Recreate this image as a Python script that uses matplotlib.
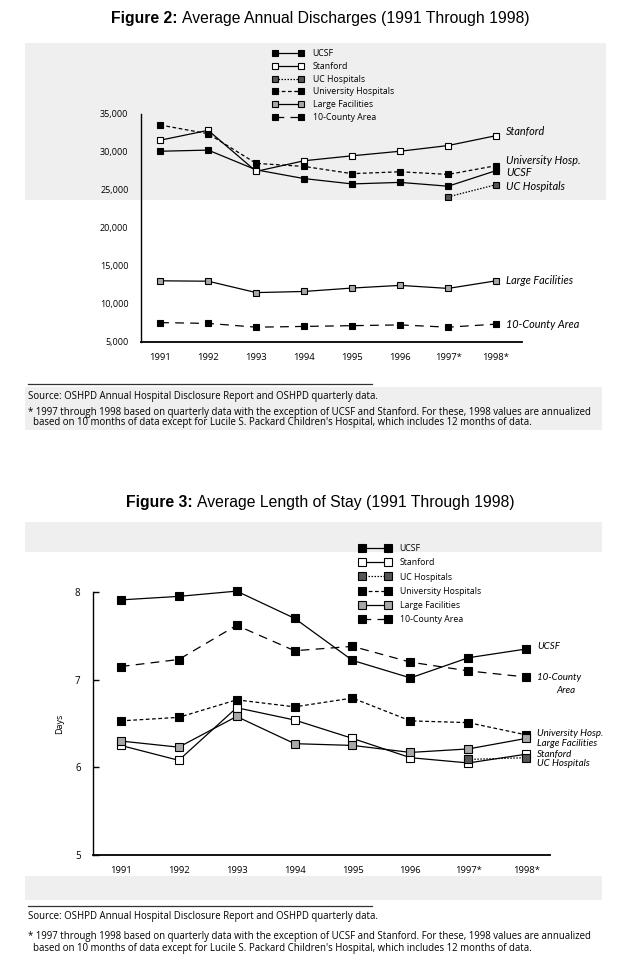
import numpy as np
import matplotlib
matplotlib.use("Agg")
import matplotlib.pyplot as plt
from matplotlib.lines import Line2D
from matplotlib.patches import Rectangle

years = [1991, 1992, 1993, 1994, 1995, 1996, 1997, 1998]
year_labels = ["1991", "1992", "1993", "1994", "1995", "1996", "1997*", "1998*"]
nan = np.nan

# Figure 2: average annual discharges
dis_ucsf = [30100, 30250, 27650, 26500, 25800, 26000, 25500, 27550]
dis_stanford = [31550, 32850, 27450, 28850, 29500, 30100, 30850, 32150]
dis_uc = [nan, nan, nan, nan, nan, nan, 24100, 25700]
dis_univ = [33550, 32400, 28500, 28100, 27150, 27400, 27050, 28200]
dis_large = [13050, 13000, 11500, 11650, 12100, 12450, 12050, 13050]
dis_county = [7550, 7450, 6950, 7050, 7150, 7250, 6950, 7350]
dis_ticks = [5000, 10000, 15000, 20000, 25000, 30000, 35000]

# Figure 3: average length of stay (days)
los_ucsf = [7.91, 7.95, 8.01, 7.70, 7.22, 7.02, 7.25, 7.35]
los_stanford = [6.25, 6.08, 6.68, 6.54, 6.33, 6.11, 6.05, 6.15]
los_uc = [nan, nan, nan, nan, nan, nan, 6.09, 6.11]
los_univ = [6.53, 6.57, 6.77, 6.69, 6.79, 6.53, 6.51, 6.37]
los_large = [6.30, 6.23, 6.58, 6.27, 6.25, 6.17, 6.21, 6.33]
los_county = [7.15, 7.23, 7.62, 7.33, 7.38, 7.20, 7.10, 7.03]
los_ticks = [5, 6, 7, 8]

names = ["UCSF", "Stanford", "UC Hospitals", "University Hospitals",
         "Large Facilities", "10-County Area"]
styles = {
    "UCSF": dict(color="black", ls="-", mfc="black"),
    "Stanford": dict(color="black", ls="-", mfc="white"),
    "UC Hospitals": dict(color="black", ls=(0, (1.2, 1.2)), mfc="#555555"),
    "University Hospitals": dict(color="black", ls=(0, (3, 2)), mfc="black"),
    "Large Facilities": dict(color="black", ls="-", mfc="#a8a8a8"),
    "10-County Area": dict(color="black", ls=(0, (7, 5)), mfc="black"),
}

tick_font = "Open Sans"
hand_font = dict(family="Lato", style="italic")

fig = plt.figure(figsize=(6.38, 9.68), dpi=100)
W, H = 638.0, 968.0


def fx(x):
    return x / W


def fy(y):
    return 1 - y / H


# scanned page shading
for (x0, y0, x1, y1) in [(25, 43, 606, 200), (25, 387, 602, 430),
                         (25, 522, 602, 552), (25, 876, 602, 900)]:
    fig.add_artist(Rectangle((fx(x0), fy(y1)), fx(x1 - x0), (y1 - y0) / H,
                             transform=fig.transFigure, color="#efefef",
                             zorder=-10, lw=0))

renderer = fig.canvas.get_renderer()


def title(y, num, rest):
    t1 = fig.text(0, fy(y), f"Figure {num}: ", ha="left", va="center",
                  fontsize=11.3, fontweight="bold", family="Liberation Sans")
    t2 = fig.text(0, fy(y), rest, ha="left", va="center",
                  fontsize=11.3, family="Liberation Sans")
    w1 = t1.get_window_extent(renderer).width
    w2 = t2.get_window_extent(renderer).width
    x0 = 320 - (w1 + w2) / 2
    t1.set_x(fx(x0))
    t2.set_x(fx(x0 + w1))


title(18, 2, "Average Annual Discharges (1991 Through 1998)")
title(503, 3, "Average Length of Stay (1991 Through 1998)")


def draw(ax, series, ms):
    handles = []
    for name, vals in zip(names, series):
        s = styles[name]
        h, = ax.plot(years, vals, color=s["color"], ls=s["ls"], lw=0.9,
                     marker="s", ms=ms, mfc=s["mfc"], mec="black", mew=0.8,
                     label=name, clip_on=False)
        handles.append(h)
    return handles


def style_axes(ax):
    for side in ["top", "right"]:
        ax.spines[side].set_visible(False)
    ax.spines["left"].set_linewidth(1.0)
    ax.spines["bottom"].set_linewidth(1.3)
    ax.set_facecolor("none")
    ax.set_xticks(years)
    ax.set_xticklabels(year_labels, family=tick_font, fontsize=6.8)
    ax.tick_params(axis="x", length=0, pad=8)


# ---- Figure 2
ax2 = fig.add_axes([fx(141), fy(342), fx(522 - 141), (342 - 114) / H])
h2 = draw(ax2, [dis_ucsf, dis_stanford, dis_uc, dis_univ, dis_large, dis_county], 5)
style_axes(ax2)
ax2.set_xlim(1990.6, 1998.54)
ax2.set_ylim(5000, 35000)
ax2.set_yticks(dis_ticks)
ax2.set_yticklabels([f"{v:,}" for v in dis_ticks], family=tick_font, fontsize=6.5)
ax2.tick_params(axis="y", length=0, pad=9)
ax2.set_yticks([35000], minor=True)
ax2.tick_params(axis="y", which="minor", direction="in", length=5, width=1)
ax2.legend(handles=h2, loc="upper left", bbox_to_anchor=(fx(268), fy(45)),
           bbox_transform=fig.transFigure, frameon=False, numpoints=2,
           handlelength=3.6, handletextpad=1.0, labelspacing=0.42,
           borderpad=0, prop=dict(family=tick_font, size=6.3))

lab2 = [("Stanford", dis_stanford[-1], 3), ("University Hosp.", dis_univ[-1], 4),
        ("UCSF", dis_ucsf[-1], -1), ("UC Hospitals", dis_uc[-1], -1),
        ("Large Facilities", dis_large[-1], 0), ("10-County Area", dis_county[-1], 0)]
for txt, v, dy in lab2:
    ax2.annotate(txt, (years[-1], v), xytext=(7, dy), textcoords="offset points",
                 va="center", ha="left", annotation_clip=False, fontsize=7.8,
                 **hand_font)

# ---- Figure 3
ax3 = fig.add_axes([fx(93), fy(855), fx(550 - 93), (855 - 592) / H])
h3 = draw(ax3, [los_ucsf, los_stanford, los_uc, los_univ, los_large, los_county], 5.5)
style_axes(ax3)
ax3.set_xlim(1990.52, 1998.41)
ax3.set_ylim(5, 8)
ax3.set_yticks(los_ticks)
ax3.set_yticklabels([str(v) for v in los_ticks], family=tick_font, fontsize=7)
ax3.tick_params(axis="y", direction="in", length=4, width=1, pad=9)
ax3.set_ylabel("Days", family=tick_font, fontsize=6.5, labelpad=8)
ax3.legend(handles=h3, loc="upper left", bbox_to_anchor=(fx(355), fy(540)),
           bbox_transform=fig.transFigure, frameon=False, numpoints=2,
           handlelength=3.6, handletextpad=1.0, labelspacing=0.58,
           borderpad=0, prop=dict(family=tick_font, size=6.3))

lab3 = [("UCSF", los_ucsf[-1], 2), ("10-County", los_county[-1], 0),
        ("Area", los_county[-1], -10), ("University Hosp.", los_univ[-1], 1),
        ("Large Facilities", los_large[-1], -3.5), ("Stanford", los_stanford[-1], -0.5),
        ("UC Hospitals", los_uc[-1], -4.5)]
for txt, v, dy in lab3:
    dx = 22 if txt == "Area" else 8
    ax3.annotate(txt, (years[-1], v), xytext=(dx, dy), textcoords="offset points",
                 va="center", ha="left", annotation_clip=False, fontsize=7,
                 **hand_font)

# ---- source notes
src = "Source: OSHPD Annual Hospital Disclosure Report and OSHPD quarterly data."
note1 = ("* 1997 through 1998 based on quarterly data with the exception of UCSF and "
         "Stanford. For these, 1998 values are annualized")
note2 = ("based on 10 months of data except for Lucile S. Packard Children's Hospital, "
         "which includes 12 months of data.")
note_font = dict(family=tick_font, fontsize=6.9, va="center")
for yl, ys, yn in [(384, 397, 412), (906, 916, 937)]:
    fig.add_artist(Line2D([fx(28), fx(372)], [fy(yl), fy(yl)],
                          transform=fig.transFigure, color="#333333", lw=0.9))
    fig.text(fx(28), fy(ys), src, **note_font)
    fig.text(fx(28), fy(yn), note1, **note_font)
    fig.text(fx(33), fy(yn + 11), note2, **note_font)

fig.savefig("out.png", dpi=100, facecolor="white")
